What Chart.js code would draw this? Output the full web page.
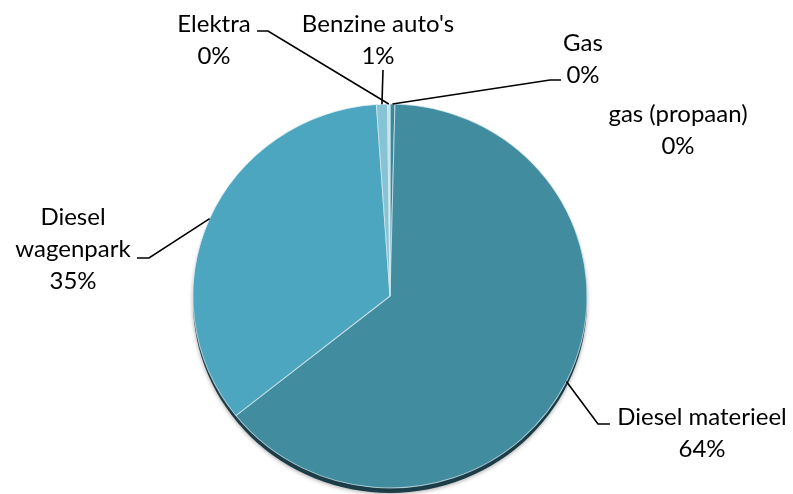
<!DOCTYPE html>
<html>
<head>
<meta charset="utf-8">
<script src="https://cdn.jsdelivr.net/npm/chart.js@4"></script>
<style>
  html, body { margin: 0; padding: 0; background: #fff; }
  #wrap { width: 793px; height: 494px; position: relative; }
</style>
</head>
<body>
<div id="wrap"><canvas id="pieCanvas"></canvas></div>
<script>
// slice data, clockwise from 12 o'clock
var categories = ["Gas", "gas (propaan)", "Diesel materieel", "Diesel wagenpark", "Benzine auto's", "Elektra"];
var shares = [0.4, 0, 63.9, 34.6, 0.9, 0.2];
var sliceColors = ["#3d879b", "#3d879b", "#428ca0", "#4da6bf", "#86c3d4", "#c3e2ea"];

// label layout (text centre x, first baseline y, elbow points of the leader)
var labelLayout = [
  { x: 583, y: 51, lines: ["Gas"], leader: [[550, 80], [561, 80]] },
  { x: 678, y: 122, lines: ["gas (propaan)"], leader: null },
  { x: 702, y: 425, lines: ["Diesel materieel"], leader: [[598, 424], [610, 424]] },
  { x: 73, y: 225, lines: ["Diesel", "wagenpark"], leader: [[149, 258], [137, 258]] },
  { x: 378, y: 32, lines: ["Benzine auto's"], leader: [[383, 70]] },
  { x: 214, y: 32, lines: ["Elektra"], leader: [[268, 31], [257, 31]] }
];

var FONT = "24px Lato, 'Open Sans', sans-serif";
var LINE_H = 32;
// the original pie is seen slightly tilted: a bit wider than tall
var SX = 1.013, SY = 0.987;

// dark rim under the pie (the 3d edge in the original) + tilt transform
var shadowPlugin = {
  id: "pieShadow",
  beforeDatasetsDraw: function (chart) {
    var arc = chart.getDatasetMeta(0).data[0];
    if (!arc) return;
    var ctx = chart.ctx;
    ctx.save();
    ctx.translate(arc.x, arc.y);
    ctx.scale(SX, SY);
    ctx.translate(-arc.x, -arc.y);
    ctx.save();
    ctx.beginPath();
    ctx.arc(arc.x, arc.y + 5, arc.outerRadius, 0, Math.PI * 2);
    ctx.fillStyle = "#1b3d47";
    ctx.shadowColor = "rgba(0,0,0,0.35)";
    ctx.shadowBlur = 4;
    ctx.shadowOffsetY = 1;
    ctx.fill();
    ctx.restore();
  },
  afterDatasetsDraw: function (chart) {
    chart.ctx.restore();
  }
};

var labelPlugin = {
  id: "pieLabels",
  afterDatasetsDraw: function (chart) {
    var ctx = chart.ctx;
    var meta = chart.getDatasetMeta(0);
    var total = shares.reduce(function (a, b) { return a + b; }, 0);
    ctx.save();
    ctx.font = FONT;
    ctx.fillStyle = "#000";
    ctx.textAlign = "center";
    ctx.textBaseline = "alphabetic";
    meta.data.forEach(function (arc, i) {
      var lay = labelLayout[i];
      var pct = Math.round(shares[i] / total * 100) + "%";
      var lines = lay.lines.concat([pct]);
      lines.forEach(function (t, k) {
        ctx.fillText(t, lay.x, lay.y + k * LINE_H);
      });
      if (lay.leader) {
        var mid = (arc.startAngle + arc.endAngle) / 2;
        var px = arc.x + Math.cos(mid) * arc.outerRadius * SX;
        var py = arc.y + Math.sin(mid) * arc.outerRadius * SY;
        ctx.beginPath();
        ctx.moveTo(px, py);
        lay.leader.forEach(function (p) { ctx.lineTo(p[0], p[1]); });
        ctx.strokeStyle = "#000";
        ctx.lineWidth = 1.6;
        ctx.stroke();
      }
    });
    ctx.restore();
  }
};

var chart = new Chart(document.getElementById("pieCanvas"), {
  type: "pie",
  data: {
    labels: categories,
    datasets: [{
      data: shares,
      backgroundColor: sliceColors,
      borderColor: "rgba(220,240,245,0.7)",
      borderWidth: 1,
      hoverOffset: 0,
      offset: 0
    }]
  },
  options: {
    responsive: true,
    maintainAspectRatio: false,
    animation: false,
    events: [],
    layout: { padding: { top: 101, bottom: 3, left: 0, right: 13 } },
    plugins: {
      legend: { display: false },
      tooltip: { enabled: false }
    }
  },
  plugins: [shadowPlugin, labelPlugin]
});
</script>
</body>
</html>
